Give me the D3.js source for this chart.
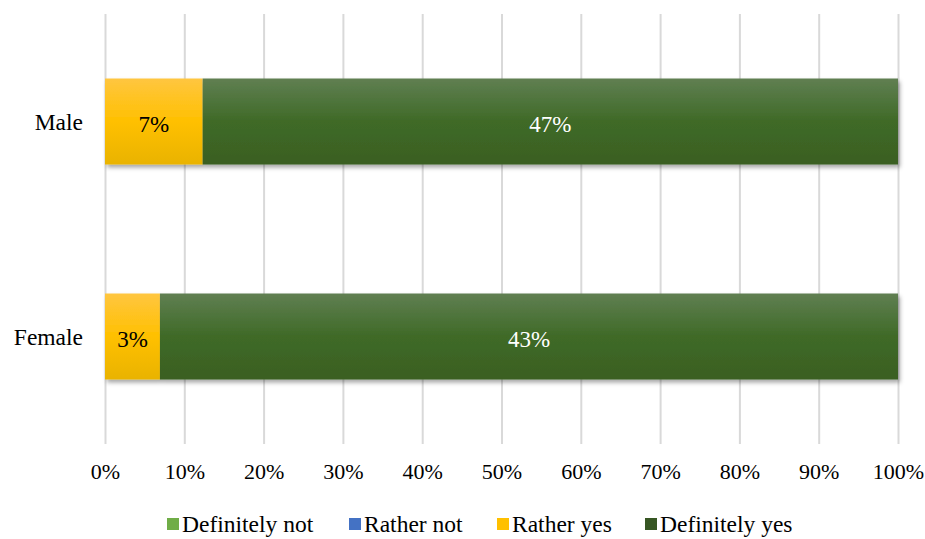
<!DOCTYPE html>
<html>
<head>
<meta charset="utf-8">
<script src="https://cdn.jsdelivr.net/npm/d3@7"></script>
<style>
  html, body { margin: 0; padding: 0; background: #fff; }
  svg { display: block; font-family: "Liberation Serif", "Times New Roman", serif; }
</style>
</head>
<body>
<svg id="chart" width="925" height="539"></svg>
<script>
// ---- Data ----
const categories = ["Male", "Female"];
const seriesNames = ["Definitely not", "Rather not", "Rather yes", "Definitely yes"];
const definitelyNot = [0, 0];
const ratherNot = [0, 0];
const ratherYes = [6.6, 3.2];
const definitelyYes = [47, 43];
const tickLabels = ["0%", "10%", "20%", "30%", "40%", "50%", "60%", "70%", "80%", "90%", "100%"];
const seriesColors = ["#70ad47", "#4472c4", "#ffc000", "#375623"];

// ---- Layout ----
const svg = d3.select("#chart");
const margin = { left: 105, right: 27, top: 14, bottom: 95 };
const W = 925, H = 539;
const plotW = W - margin.left - margin.right;
const plotH = H - margin.top - margin.bottom;

const rows = categories.map((c, i) => ({
  category: c,
  "Definitely not": definitelyNot[i],
  "Rather not": ratherNot[i],
  "Rather yes": ratherYes[i],
  "Definitely yes": definitelyYes[i]
}));

const stack = d3.stack().keys(seriesNames).offset(d3.stackOffsetExpand);
const stacked = stack(rows);

const x = d3.scaleLinear().domain([0, 1]).range([margin.left, margin.left + plotW]);
const y = d3.scaleBand().domain(categories).range([margin.top, margin.top + plotH])
  .paddingInner(0.6).paddingOuter(0.3);

// defs: gradients + shadow
const defs = svg.append("defs");
const gradSpecs = [
  ["#93c170", "#70ad47", "#649c3e"],
  ["#6d8fd0", "#4472c4", "#3c66b0"],
  ["#ffc640", "#ffc000", "#e9b300"],
  ["#607f52", "#3f6a27", "#3a5f22"]
];
gradSpecs.forEach((g, i) => {
  const lg = defs.append("linearGradient").attr("id", "grad" + i)
    .attr("x1", 0).attr("y1", 0).attr("x2", 0).attr("y2", 1);
  lg.append("stop").attr("offset", "0%").attr("stop-color", g[0]);
  lg.append("stop").attr("offset", "50%").attr("stop-color", g[1]);
  lg.append("stop").attr("offset", "100%").attr("stop-color", g[2]);
});
const filt = defs.append("filter").attr("id", "shadow")
  .attr("x", "-5%").attr("y", "-10%").attr("width", "115%").attr("height", "130%");
filt.append("feDropShadow").attr("dx", 2).attr("dy", 3).attr("stdDeviation", 2)
  .attr("flood-color", "#000").attr("flood-opacity", 0.35);

// gridlines + tick labels via axis
const xAxis = d3.axisBottom(x)
  .tickValues(d3.range(0, 1.0001, 0.1))
  .tickFormat((d, i) => tickLabels[i])
  .tickSize(plotH)
  .tickPadding(19);

const gAxis = svg.append("g").attr("transform", `translate(0,${margin.top})`).call(xAxis);
gAxis.select(".domain").remove();
gAxis.selectAll(".tick line").attr("stroke", "#d9d9d9").attr("stroke-width", 2);
gAxis.selectAll(".tick text")
  .attr("fill", "#000")
  .style("font-size", "22px")
  .style("font-family", '"Liberation Serif", "Times New Roman", serif');

// bars
const barsG = svg.append("g").attr("filter", "url(#shadow)");
stacked.forEach((s, si) => {
  barsG.selectAll(null).data(s).join("rect")
    .attr("x", d => x(d[0]))
    .attr("width", d => Math.max(0, x(d[1]) - x(d[0])))
    .attr("y", d => y(d.data.category))
    .attr("height", y.bandwidth())
    .attr("fill", `url(#grad${si})`);
});

// value labels
const fmt = v => Math.round(v) + "%";
stacked.forEach((s, si) => {
  svg.append("g").selectAll("text").data(s.filter(d => d.data[s.key] > 0)).join("text")
    .attr("x", d => (x(d[0]) + x(d[1])) / 2)
    .attr("y", d => y(d.data.category) + y.bandwidth() / 2)
    .attr("dy", "0.45em")
    .attr("text-anchor", "middle")
    .attr("fill", si === 3 ? "#ffffff" : "#000000")
    .style("font-size", "23px")
    .text(d => fmt(d.data[s.key]));
});

// category labels
svg.append("g").selectAll("text").data(categories).join("text")
  .attr("x", 83)
  .attr("y", d => y(d) + y.bandwidth() / 2)
  .attr("dy", "0.35em")
  .attr("text-anchor", "end")
  .attr("fill", "#000")
  .style("font-size", "23.5px")
  .text(d => d);

// legend
const legendX = [167, 349, 497, 645];
const legend = svg.append("g");
seriesNames.forEach((name, i) => {
  legend.append("rect")
    .attr("x", legendX[i]).attr("y", 518)
    .attr("width", 12).attr("height", 12)
    .attr("fill", seriesColors[i]);
  legend.append("text")
    .attr("x", legendX[i] + 15).attr("y", 532)
    .attr("fill", "#000")
    .style("font-size", "23.5px")
    .text(name);
});
</script>
</body>
</html>
